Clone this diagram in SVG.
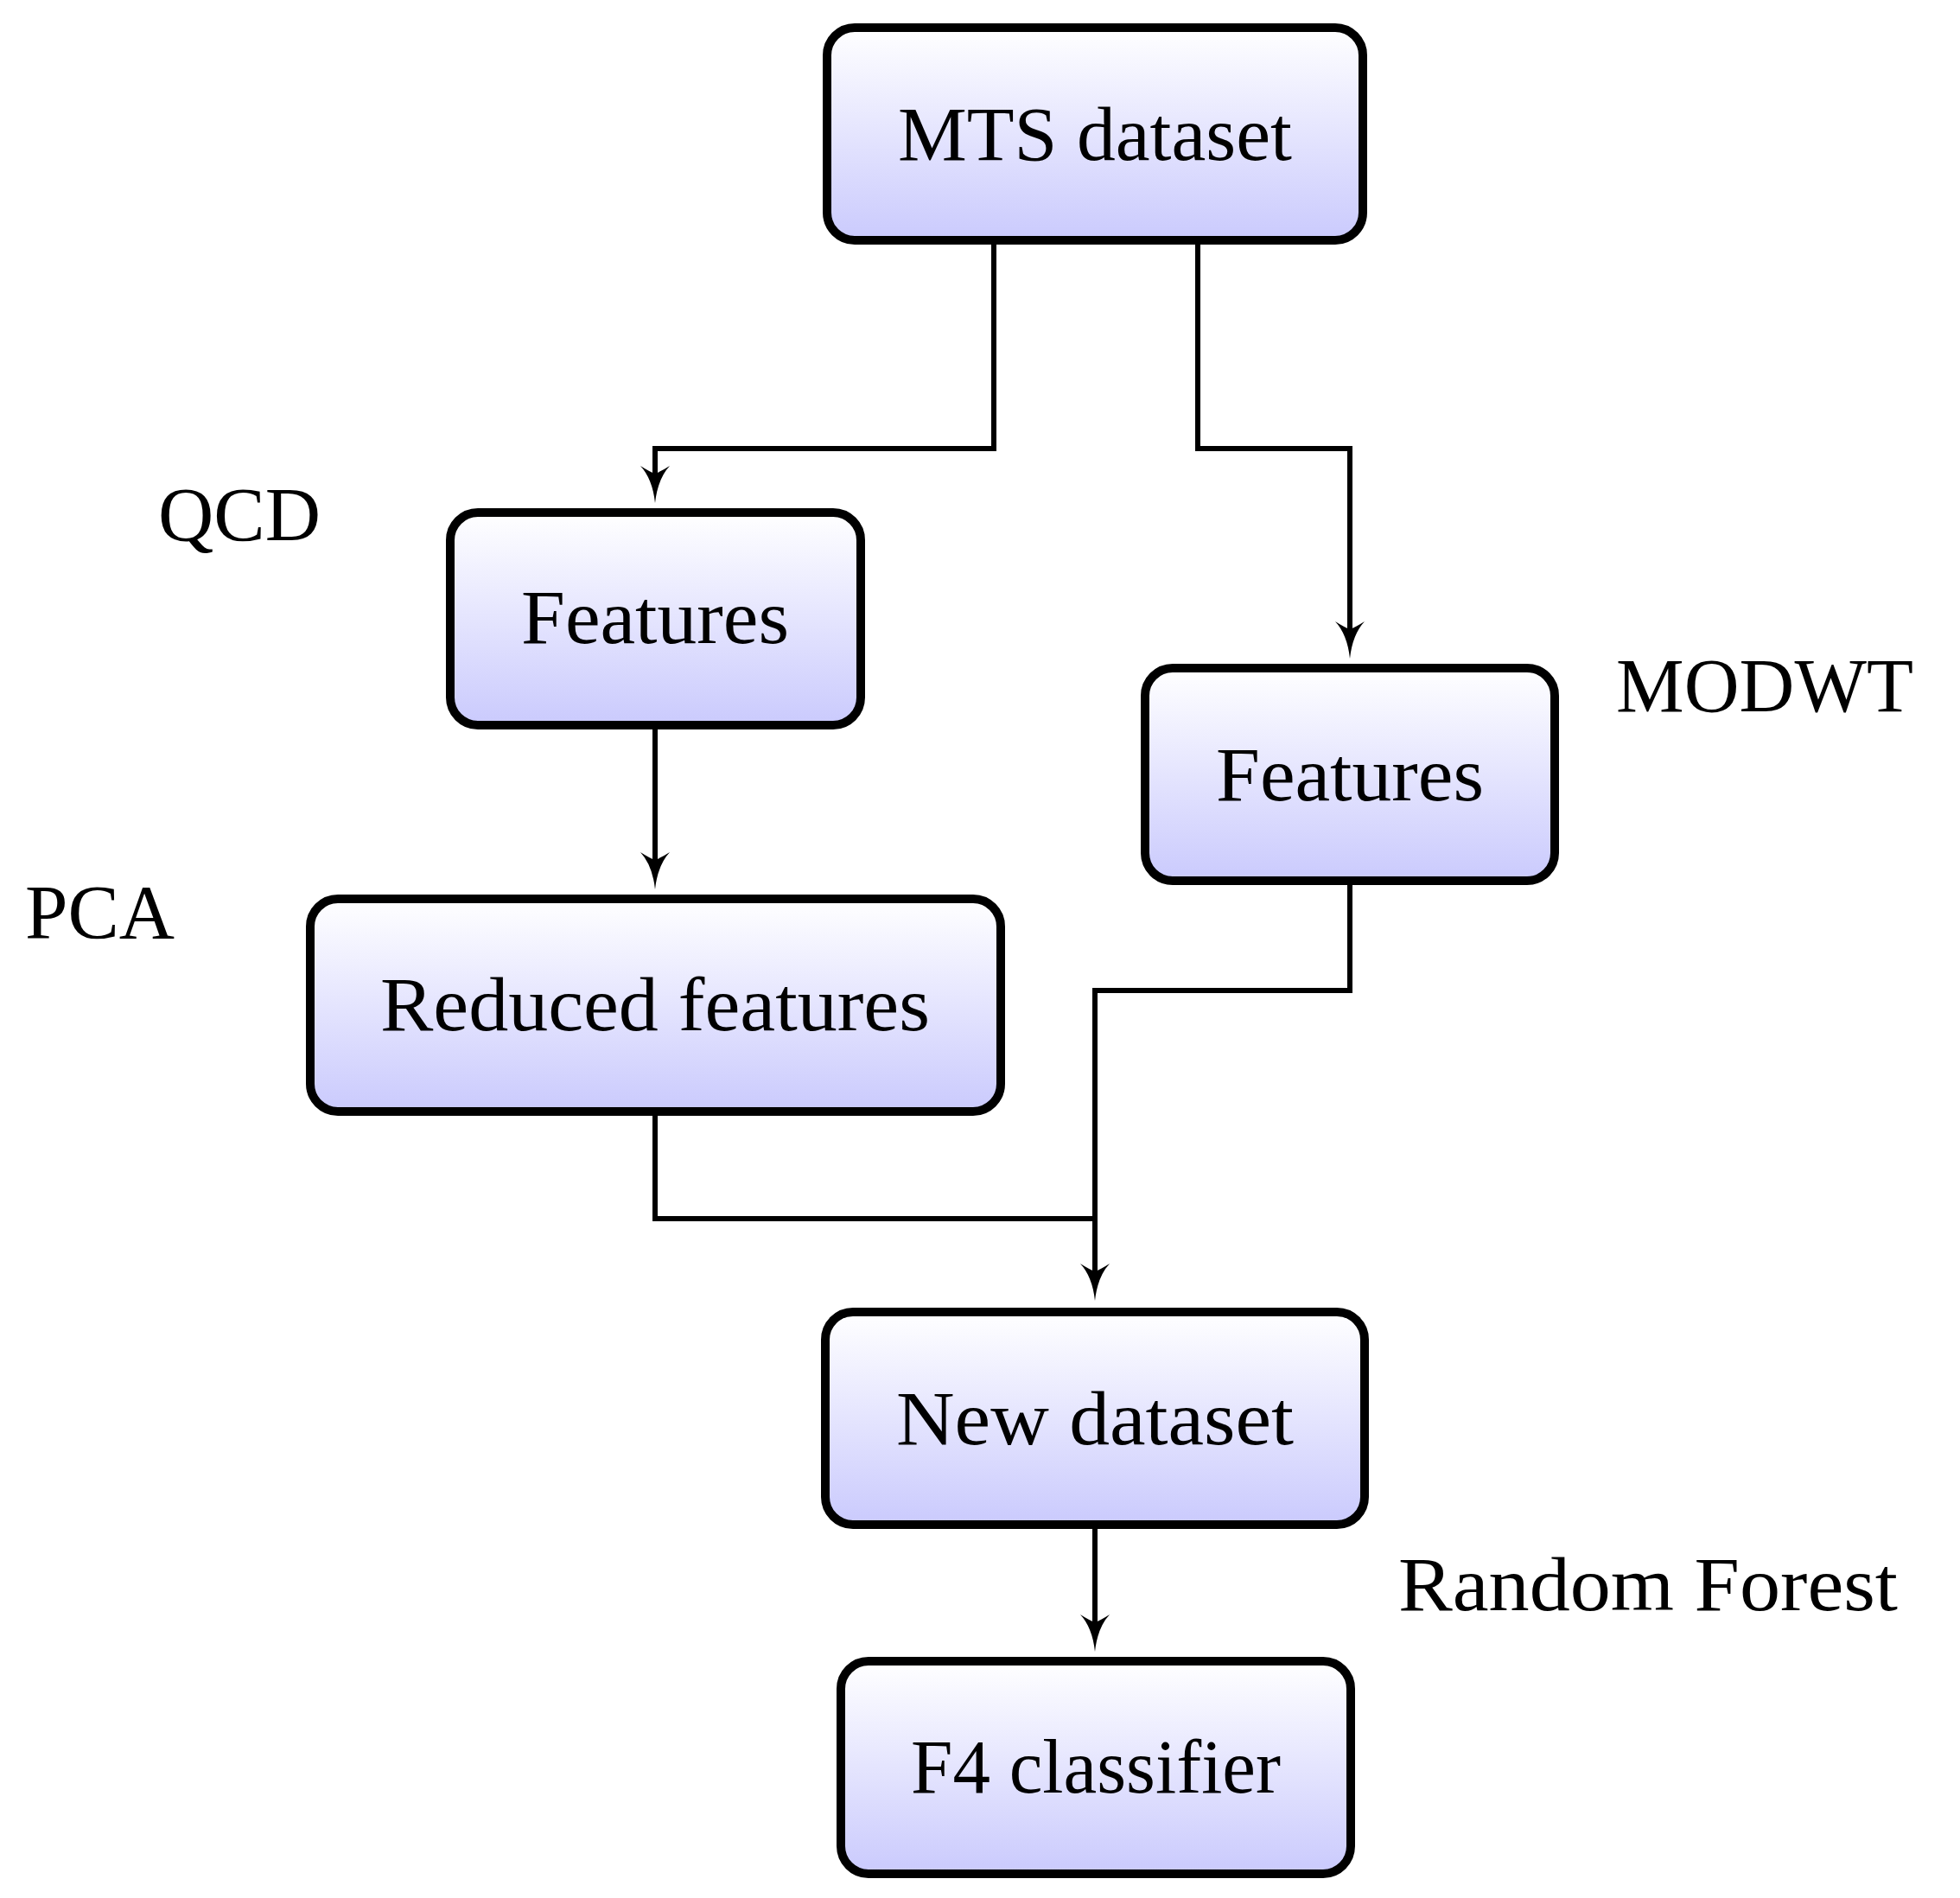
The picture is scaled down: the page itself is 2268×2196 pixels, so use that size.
<svg xmlns="http://www.w3.org/2000/svg" width="2268" height="2196" viewBox="0 0 2268 2196">
  <defs>
    <linearGradient id="boxfill" x1="0" y1="0" x2="0" y2="1">
      <stop offset="0" stop-color="#FFFFFF"/>
      <stop offset="1" stop-color="#CACAFD"/>
    </linearGradient>
    <marker id="arrow" markerUnits="userSpaceOnUse" viewBox="-45 -20 50 40" markerWidth="50" markerHeight="40" refX="-34" refY="0" orient="auto">
      <path d="M0,0 Q-28,-3 -43,-17 Q-36,-6 -34,0 Q-36,6 -43,17 Q-28,3 0,0 Z" fill="#000"/>
    </marker>
  </defs>
  <style>
    .box { fill: url(#boxfill); stroke: #000; stroke-width: 10; }
    .lbl { font-family: "Liberation Serif", "Times New Roman", serif; font-size: 88px; fill: #000; }
    .mid { text-anchor: middle; }
    .conn { fill: none; stroke: #000; stroke-width: 6; }
  </style>
  <rect width="2268" height="2196" fill="#FFFFFF"/>

  <g id="connectors">
    <path class="conn" d="M1150,281 V519 H758 V548" marker-end="url(#arrow)"/>
    <path class="conn" d="M1386,281 V519 H1562 V728" marker-end="url(#arrow)"/>
    <path class="conn" d="M758,838 V995" marker-end="url(#arrow)"/>
    <path class="conn" d="M1562,1020 V1146 H1267 V1471" marker-end="url(#arrow)"/>
    <path class="conn" d="M758,1286 V1410 H1267"/>
    <path class="conn" d="M1267,1766 V1877" marker-end="url(#arrow)"/>
  </g>

  <g id="node-mts">
    <rect class="box" x="957" y="32" width="620" height="246" rx="32" ry="32"/>
    <text class="lbl mid" x="1267" y="185" textLength="456" lengthAdjust="spacingAndGlyphs">MTS dataset</text>
  </g>
  <g id="node-features-qcd">
    <rect class="box" x="521" y="593" width="475" height="246" rx="32" ry="32"/>
    <text class="lbl mid" x="758" y="744" textLength="310" lengthAdjust="spacingAndGlyphs">Features</text>
  </g>
  <g id="node-reduced">
    <rect class="box" x="359" y="1040" width="799" height="246" rx="32" ry="32"/>
    <text class="lbl mid" x="758" y="1192" textLength="636" lengthAdjust="spacingAndGlyphs">Reduced features</text>
  </g>
  <g id="node-features-modwt">
    <rect class="box" x="1325" y="773" width="474" height="246" rx="32" ry="32"/>
    <text class="lbl mid" x="1562" y="926" textLength="310" lengthAdjust="spacingAndGlyphs">Features</text>
  </g>
  <g id="node-new-dataset">
    <rect class="box" x="955" y="1518" width="624" height="246" rx="32" ry="32"/>
    <text class="lbl mid" x="1267" y="1671" textLength="460" lengthAdjust="spacingAndGlyphs">New dataset</text>
  </g>
  <g id="node-f4">
    <rect class="box" x="973" y="1922" width="590" height="246" rx="32" ry="32"/>
    <text class="lbl mid" x="1268" y="2074" textLength="428" lengthAdjust="spacingAndGlyphs">F4 classifier</text>
  </g>

  <g id="labels">
    <text class="lbl" x="183" y="625" textLength="188" lengthAdjust="spacingAndGlyphs">QCD</text>
    <text class="lbl" x="29" y="1085" textLength="173" lengthAdjust="spacingAndGlyphs">PCA</text>
    <text class="lbl" x="1870" y="823" textLength="344" lengthAdjust="spacingAndGlyphs">MODWT</text>
    <text class="lbl" x="1618" y="1863" textLength="578" lengthAdjust="spacingAndGlyphs">Random Forest</text>
  </g>
</svg>
